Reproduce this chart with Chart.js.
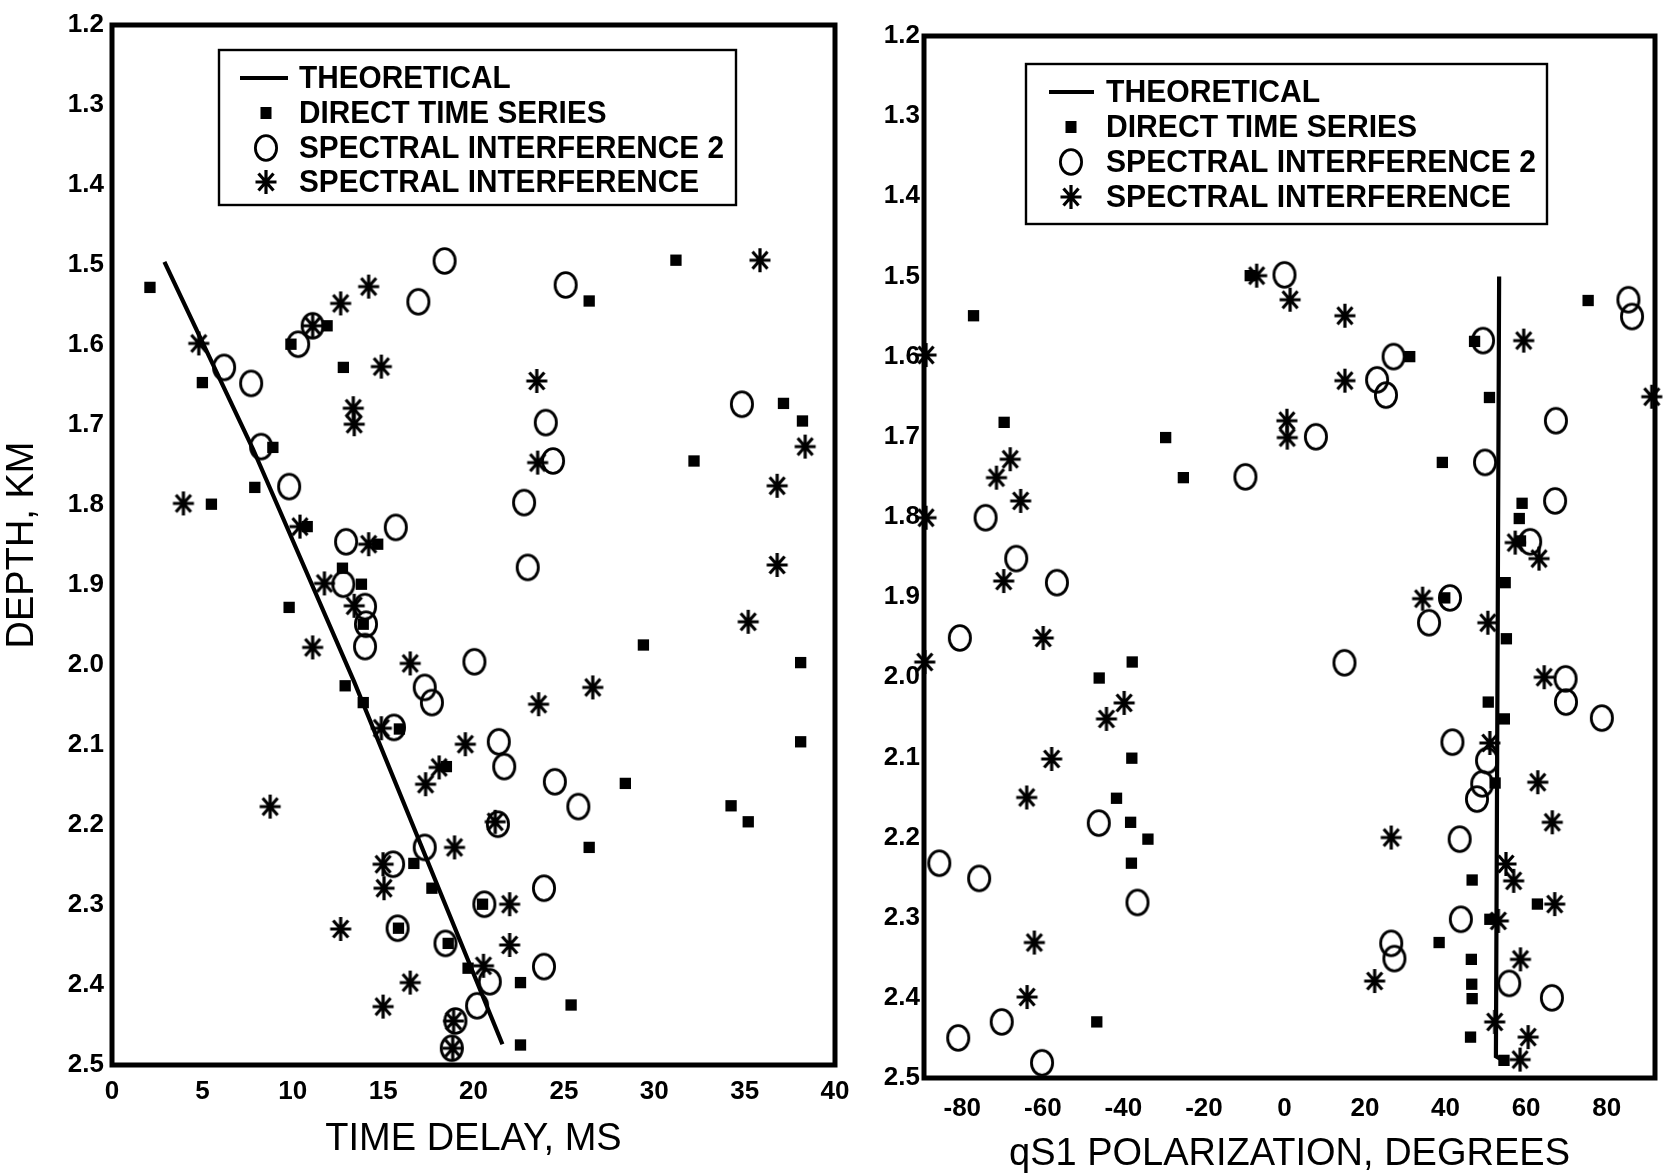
<!DOCTYPE html>
<html>
<head>
<meta charset="utf-8">
<script src="https://cdn.jsdelivr.net/npm/chart.js@4.4.0/dist/chart.umd.min.js"></script>
<style>
  html, body { margin: 0; padding: 0; background: #fff; }
  #wrap { position: relative; width: 1673px; height: 1174px; overflow: hidden; }
  canvas { position: absolute; top: 0; }
  #delayChart { left: 0; }
  #polarChart { left: 880px; }
</style>
</head>
<body>
<div id="wrap">
  <canvas id="delayChart" width="880" height="1174"></canvas>
  <canvas id="polarChart" width="793" height="1174"></canvas>
</div>
<script>
// ---- axis ticks ----
const depthTicks = [1.2, 1.3, 1.4, 1.5, 1.6, 1.7, 1.8, 1.9, 2.0, 2.1, 2.2, 2.3, 2.4, 2.5];
const delayTicks = [0, 5, 10, 15, 20, 25, 30, 35, 40];
const polarTicks = [-80, -60, -40, -20, 0, 20, 40, 60, 80];

const seriesLabels = ['THEORETICAL', 'DIRECT TIME SERIES', 'SPECTRAL INTERFERENCE 2', 'SPECTRAL INTERFERENCE'];

// ---- shear-wave time delay (ms) vs depth (km) ----
const delayTheory = [[2.9, 1.496], [7.8, 1.73], [13.4, 2.021], [21.6, 2.474]];
const delayDirect = [
  [2.1, 1.528], [5.0, 1.647], [5.5, 1.799], [8.9, 1.728], [7.9, 1.778], [9.9, 1.599],
  [11.9, 1.576], [12.8, 1.628], [10.8, 1.827], [14.7, 1.849], [12.75, 1.879], [13.8, 1.899],
  [9.8, 1.928], [13.9, 1.949], [12.9, 2.026], [13.9, 2.047], [15.9, 2.08], [18.5, 2.127],
  [28.4, 2.148], [16.7, 2.248], [17.7, 2.279], [15.85, 2.329], [20.5, 2.299], [18.6, 2.348],
  [19.7, 2.379], [22.6, 2.397], [25.4, 2.425], [22.6, 2.475], [26.4, 2.228], [31.2, 1.494],
  [26.4, 1.545], [29.4, 1.975], [32.2, 1.745], [34.25, 2.176], [35.2, 2.196], [37.15, 1.673],
  [38.2, 1.695], [38.1, 1.997], [38.1, 2.096]
];
const delaySpectral2 = [
  [18.4, 1.495], [16.95, 1.546], [25.1, 1.525], [11.1, 1.576], [10.3, 1.599], [6.2, 1.628],
  [7.7, 1.648], [8.25, 1.727], [9.8, 1.777], [12.95, 1.846], [15.7, 1.828], [12.8, 1.899],
  [14.0, 1.927], [14.05, 1.949], [14.0, 1.977], [20.05, 1.996], [17.3, 2.028], [17.7, 2.047],
  [15.6, 2.078], [21.4, 2.096], [21.7, 2.127], [24.5, 2.146], [25.8, 2.177], [21.35, 2.199],
  [17.3, 2.228], [15.55, 2.249], [20.6, 2.299], [23.9, 2.279], [15.8, 2.329], [18.45, 2.348],
  [23.9, 2.377], [20.9, 2.396], [20.2, 2.426], [19.0, 2.445], [18.8, 2.479], [22.8, 1.797],
  [23.0, 1.878], [24.0, 1.697], [24.4, 1.745], [34.85, 1.674]
];
const delaySpectral = [
  [35.85, 1.494], [14.2, 1.527], [12.65, 1.548], [11.1, 1.576], [4.8, 1.598], [14.9, 1.627],
  [13.35, 1.679], [13.4, 1.699], [23.5, 1.645], [23.55, 1.747], [38.35, 1.727], [36.8, 1.776],
  [3.95, 1.798], [10.4, 1.827], [14.2, 1.849], [11.75, 1.898], [13.4, 1.926], [11.1, 1.978],
  [16.5, 1.998], [36.8, 1.875], [35.2, 1.946], [26.6, 2.028], [23.6, 2.049], [14.9, 2.079],
  [19.55, 2.099], [18.1, 2.128], [17.35, 2.149], [8.75, 2.177], [21.2, 2.196], [18.95, 2.228],
  [15.0, 2.249], [15.05, 2.279], [22.0, 2.299], [12.65, 2.33], [22.0, 2.35], [20.55, 2.376],
  [16.5, 2.397], [15.0, 2.427], [18.9, 2.445], [18.85, 2.479]
];

// ---- qS1 polarization (degrees) vs depth (km) ----
const polarTheory = [[53.3, 1.5], [52.5, 2.473], [54.6, 2.479]];
const polarDirect = [
  [-8.5, 1.499], [-77.2, 1.549], [47.2, 1.581], [31.1, 1.6], [-69.6, 1.682], [50.9, 1.651],
  [-29.5, 1.701], [-25.1, 1.751], [39.2, 1.732], [59.0, 1.783], [58.3, 1.802], [58.6, 1.83],
  [54.8, 1.882], [39.8, 1.901], [55.1, 1.952], [-37.8, 1.981], [-46.0, 2.001], [50.6, 2.031],
  [54.6, 2.052], [-37.9, 2.101], [-41.7, 2.151], [-38.2, 2.181], [-33.9, 2.202], [-38.0, 2.232],
  [52.3, 2.132], [46.6, 2.253], [62.8, 2.283], [51.0, 2.302], [38.4, 2.331], [46.4, 2.352],
  [46.5, 2.383], [46.6, 2.401], [-46.6, 2.43], [46.2, 2.449], [54.5, 2.478], [75.4, 1.53]
];
const polarSpectral2 = [
  [0.0, 1.498], [49.3, 1.58], [27.1, 1.6], [23.0, 1.629], [25.2, 1.648], [7.8, 1.7],
  [-9.7, 1.75], [49.8, 1.732], [67.4, 1.68], [67.2, 1.78], [-74.2, 1.801], [-66.6, 1.852],
  [-56.5, 1.882], [61.0, 1.831], [41.1, 1.901], [35.9, 1.932], [-80.6, 1.951], [14.9, 1.982],
  [69.8, 2.002], [69.9, 2.031], [78.8, 2.051], [41.7, 2.081], [50.3, 2.104], [49.1, 2.133],
  [47.8, 2.152], [-46.1, 2.182], [43.5, 2.202], [-85.7, 2.232], [-75.8, 2.251], [-36.5, 2.281],
  [43.8, 2.302], [26.5, 2.332], [27.3, 2.351], [55.8, 2.382], [66.4, 2.4], [-70.2, 2.43],
  [-81.0, 2.45], [-60.2, 2.481], [85.4, 1.529], [86.3, 1.55]
];
const polarSpectral = [
  [-6.9, 1.499], [1.4, 1.529], [15.0, 1.549], [-89.0, 1.598], [59.4, 1.58], [15.0, 1.63],
  [0.6, 1.68], [0.7, 1.701], [-68.1, 1.728], [-71.5, 1.751], [-65.5, 1.78], [-89.0, 1.801],
  [91.2, 1.65], [-69.7, 1.88], [57.3, 1.832], [63.2, 1.852], [-59.9, 1.951], [34.3, 1.902],
  [50.5, 1.932], [-89.3, 1.981], [64.5, 2.0], [-39.8, 2.032], [-44.2, 2.052], [-57.8, 2.102],
  [51.0, 2.082], [-64.0, 2.15], [62.9, 2.131], [66.5, 2.181], [26.5, 2.2], [55.0, 2.233],
  [56.9, 2.254], [67.1, 2.283], [53.1, 2.304], [-62.1, 2.331], [58.6, 2.352], [22.4, 2.379],
  [-63.9, 2.399], [52.2, 2.43], [60.5, 2.449], [58.5, 2.477]
];

// ---- fonts ----
function fontAvailable(name) {
  const g = document.createElement('canvas').getContext('2d');
  const probe = 'TIME DELAY, MS qS1 POLARIZATION';
  g.font = '40px monospace';
  const base = g.measureText(probe).width;
  g.font = '40px "' + name + '", monospace';
  return g.measureText(probe).width !== base;
}
const hasNarrow = fontAvailable('Liberation Sans Narrow');
const titleFont = hasNarrow
  ? { family: '"Liberation Sans Narrow", "Liberation Sans", sans-serif', size: 46, lineHeight: 1 }
  : { family: '"Liberation Sans", sans-serif', size: 38, lineHeight: 1 };
const tickFont = { family: '"Liberation Sans", Arial, sans-serif', size: 26, weight: 'bold', lineHeight: 1.2 };

Chart.defaults.font.family = '"Liberation Sans", Arial, sans-serif';
Chart.defaults.color = '#000';

// ---- marker shapes ----
function ringMarker() {
  const c = document.createElement('canvas');
  c.width = 28; c.height = 32;
  const g = c.getContext('2d');
  g.strokeStyle = '#000';
  g.lineWidth = 2.8;
  g.beginPath();
  g.ellipse(14, 16, 10.6, 12.4, 0, 0, Math.PI * 2);
  g.stroke();
  return c;
}
function starMarker() {
  const c = document.createElement('canvas');
  c.width = 26; c.height = 28;
  const g = c.getContext('2d');
  const cx = 13, cy = 14;
  g.strokeStyle = '#000';
  g.lineWidth = 3.2;
  g.beginPath();
  g.moveTo(cx, cy - 12); g.lineTo(cx, cy + 12);
  g.moveTo(cx - 10.5, cy); g.lineTo(cx + 10.5, cy);
  g.moveTo(cx - 7.5, cy - 8.5); g.lineTo(cx + 7.5, cy + 8.5);
  g.moveTo(cx + 7.5, cy - 8.5); g.lineTo(cx - 7.5, cy + 8.5);
  g.stroke();
  return c;
}
const ringImg = ringMarker();
const starImg = starMarker();

function toPoints(pairs) { return pairs.map(([x, y]) => ({ x, y })); }

function buildDatasets(theory, direct, spec2, spec) {
  return [
    { label: seriesLabels[0], data: toPoints(theory), showLine: true, borderColor: '#000',
      borderWidth: 4.2, pointRadius: 0, fill: false, clip: false },
    { label: seriesLabels[1], data: toPoints(direct), pointStyle: 'rect', pointRadius: 8,
      backgroundColor: '#000', borderColor: '#000', borderWidth: 0, clip: false },
    { label: seriesLabels[2], data: toPoints(spec2), pointStyle: ringImg, pointRadius: 10, clip: false },
    { label: seriesLabels[3], data: toPoints(spec), pointStyle: starImg, pointRadius: 10, clip: false }
  ];
}

// ---- plot frame around the chart area ----
const frameBox = {
  id: 'frameBox',
  beforeDatasetsDraw(chart) {
    const { ctx, chartArea: a } = chart;
    ctx.save();
    ctx.strokeStyle = '#000';
    ctx.lineWidth = 5;
    ctx.strokeRect(a.left, a.top, a.right - a.left, a.bottom - a.top);
    ctx.restore();
  }
};

// ---- boxed legend inside the plot ----
const boxedLegend = {
  id: 'boxedLegend',
  afterDatasetsDraw(chart, args, o) {
    const ctx = chart.ctx;
    ctx.save();
    ctx.fillStyle = '#fff';
    ctx.fillRect(o.x, o.y, o.w, o.h);
    ctx.strokeStyle = '#000';
    ctx.lineWidth = 2.4;
    ctx.strokeRect(o.x, o.y, o.w, o.h);

    ctx.font = 'bold 32px "Liberation Sans", Arial, sans-serif';
    ctx.textBaseline = 'middle';
    ctx.textAlign = 'left';
    ctx.fillStyle = '#000';
    const longest = chart.data.datasets.reduce((m, d) => Math.max(m, ctx.measureText(d.label).width), 0);
    const sx = o.textW / longest;

    chart.data.datasets.forEach((ds, i) => {
      const cy = o.y + o.rows[i];
      const mx = o.x + o.markX;
      if (ds.showLine) {
        ctx.strokeStyle = '#000';
        ctx.lineWidth = 4.2;
        ctx.beginPath();
        ctx.moveTo(o.x + o.lineFrom, cy);
        ctx.lineTo(o.x + o.lineTo, cy);
        ctx.stroke();
      } else if (ds.pointStyle instanceof HTMLCanvasElement) {
        const im = ds.pointStyle;
        ctx.drawImage(im, mx - im.width / 2, cy - im.height / 2);
      } else {
        ctx.fillRect(mx - 5.5, cy - 6, 11, 12);
      }
      ctx.save();
      ctx.translate(o.x + o.textX, cy + 1);
      ctx.scale(sx, 1);
      ctx.fillText(ds.label, 0, 0);
      ctx.restore();
    });
    ctx.restore();
  }
};

function tickSetter(values) {
  return (scale) => { scale.ticks = values.map((v) => ({ value: v })); };
}

function makeChart(id, cfg) {
  return new Chart(document.getElementById(id), {
    type: 'scatter',
    data: { datasets: cfg.datasets },
    plugins: [frameBox, boxedLegend],
    options: {
      responsive: false,
      devicePixelRatio: 1,
      animation: false,
      events: [],
      layout: { padding: cfg.padding },
      plugins: {
        legend: { display: false },
        tooltip: { enabled: false },
        boxedLegend: cfg.legend
      },
      scales: {
        x: {
          type: 'linear',
          position: 'bottom',
          min: cfg.xMin,
          max: cfg.xMax,
          grid: { display: false, drawTicks: false },
          border: { display: false },
          afterBuildTicks: tickSetter(cfg.xTicks),
          afterFit: (s) => { s.height = cfg.xAxisHeight; },
          ticks: { autoSkip: false, maxRotation: 0, padding: cfg.xTickPad, font: tickFont, color: '#000',
                   callback: (v) => String(v) },
          title: { display: true, text: cfg.xTitle, font: titleFont, color: '#000',
                   padding: { top: 0, bottom: cfg.xTitlePad } }
        },
        y: {
          type: 'linear',
          position: 'left',
          reverse: true,
          min: 1.2,
          max: 2.5,
          grid: { display: false, drawTicks: false },
          border: { display: false },
          afterBuildTicks: tickSetter(depthTicks),
          afterFit: (s) => { s.width = cfg.yAxisWidth; },
          ticks: { autoSkip: false, padding: cfg.yTickPad, font: tickFont, color: '#000',
                   callback: (v) => Number(v).toFixed(1) },
          title: { display: !!cfg.yTitle, text: cfg.yTitle || '', font: titleFont, color: '#000',
                   padding: { top: hasNarrow ? 0 : 4, bottom: 0 } }
        }
      }
    }
  });
}

makeChart('delayChart', {
  datasets: buildDatasets(delayTheory, delayDirect, delaySpectral2, delaySpectral),
  padding: { left: 0, right: 45, top: 25, bottom: 0 },
  xMin: 0, xMax: 40, xTicks: delayTicks,
  xAxisHeight: 109, yAxisWidth: 112,
  xTickPad: 11, yTickPad: 8, xTitlePad: 15,
  xTitle: 'TIME DELAY, MS',
  yTitle: 'DEPTH, KM',
  legend: { x: 219, y: 50, w: 517, h: 155, rows: [28, 63, 98, 132],
            lineFrom: 21, lineTo: 69, markX: 47, textX: 80, textW: 425 }
});

makeChart('polarChart', {
  datasets: buildDatasets(polarTheory, polarDirect, polarSpectral2, polarSpectral),
  padding: { left: 0, right: 18, top: 36, bottom: 0 },
  xMin: -89.5, xMax: 92, xTicks: polarTicks,
  xAxisHeight: 96, yAxisWidth: 44,
  xTickPad: 15, yTickPad: 4, xTitlePad: 0,
  xTitle: 'qS1 POLARIZATION, DEGREES',
  yTitle: null,
  legend: { x: 146, y: 64, w: 521, h: 160, rows: [28, 63, 98, 133],
            lineFrom: 23, lineTo: 68, markX: 45, textX: 80, textW: 430 }
});
</script>
</body>
</html>
